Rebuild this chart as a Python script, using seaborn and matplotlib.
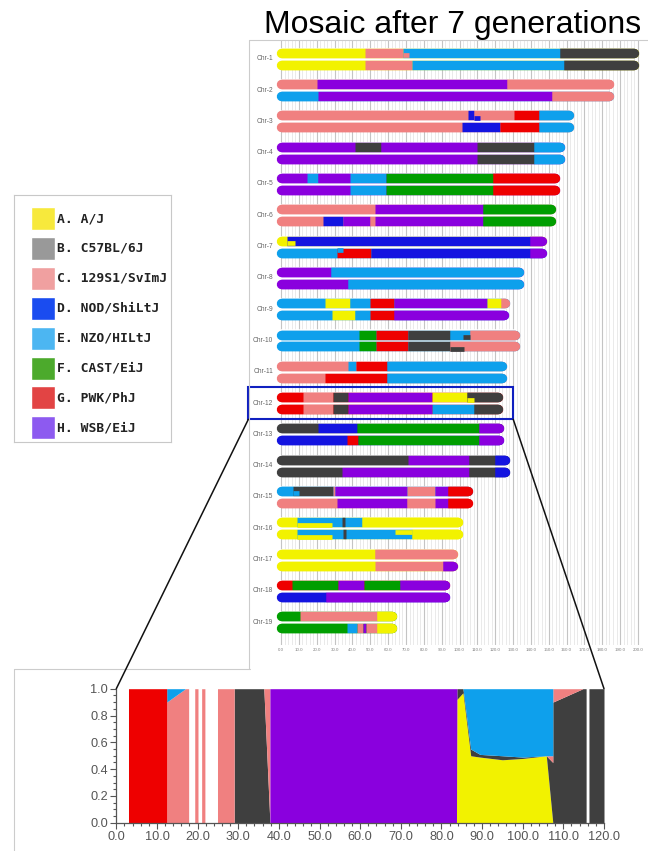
import matplotlib
matplotlib.use("Agg")
import matplotlib.pyplot as plt
import numpy as np
import seaborn as sb
from matplotlib.lines import Line2D
from matplotlib.patches import ConnectionPatch, Rectangle

# founder strains, legend text and colours
STRAINS = ["A", "B", "C", "D", "E", "F", "G", "H"]
STRAIN_LABELS = [
    "A. A/J", "B. C57BL/6J", "C. 129S1/SvImJ", "D. NOD/ShiLtJ",
    "E. NZO/HILtJ", "F. CAST/EiJ", "G. PWK/PhJ", "H. WSB/EiJ",
]
BAR_COLORS = ["#f2f200", "#3f3f3f", "#f08080", "#1414e0",
              "#0ea0ec", "#009e00", "#ee0000", "#8a00de"]
LEGEND_COLORS = ["#f7e93c", "#999999", "#f0a0a0", "#1a4cf0",
                 "#4cb6f2", "#4caa2c", "#e24444", "#8d5af0"]

CHROMOSOMES = ["Chr-%d" % i for i in range(1, 20)]
AXIS_TICKS = list(range(0, 201, 10))

# haplotype blocks as (strain, end in Mb), one list per chromosome
TOP_HAPLOTYPES = [
    [("A", 47.1), ("C", 68.6), ("E", 156.5), ("B", 197.5)],
    [("C", 20.0), ("H", 126.6), ("C", 183.5)],
    [("C", 105.0), ("D", 108.0), ("C", 130.3), ("G", 144.3), ("E", 161.4)],
    [("H", 41.5), ("B", 55.9), ("H", 109.8), ("B", 141.9), ("E", 156.2)],
    [("H", 14.4), ("E", 21.0), ("H", 38.7), ("E", 58.7), ("F", 118.5), ("G", 153.6)],
    [("C", 52.7), ("H", 113.1), ("F", 151.2)],
    [("A", 3.2), ("D", 139.6), ("H", 146.0)],
    [("H", 27.9), ("E", 133.4)],
    [("E", 24.7), ("A", 38.7), ("E", 49.9), ("G", 63.4), ("H", 115.4), ("A", 123.5), ("C", 125.5)],
    [("E", 43.9), ("F", 53.1), ("G", 71.4), ("B", 94.8), ("E", 106.0), ("C", 131.1)],
    [("C", 37.8), ("E", 42.1), ("G", 59.3), ("E", 123.7)],
    [("G", 12.5), ("C", 29.3), ("B", 37.8), ("H", 84.5), ("A", 104.0), ("B", 121.3)],
    [("B", 20.9), ("D", 42.4), ("F", 110.7), ("H", 122.1)],
    [("B", 71.4), ("H", 105.1), ("B", 120.0), ("D", 125.5)],
    [("E", 7.0), ("B", 29.0), ("C", 30.3), ("H", 70.5), ("C", 86.4), ("H", 93.8), ("G", 104.8)],
    [("A", 8.8), ("E", 45.2), ("A", 99.4)],
    [("A", 52.7), ("C", 96.4)],
    [("G", 6.0), ("F", 32.1), ("H", 46.6), ("F", 66.7), ("H", 91.8)],
    [("F", 10.7), ("C", 54.0), ("A", 62.4)],
]
BOTTOM_HAPLOTYPES = [
    [("A", 47.1), ("C", 73.3), ("E", 158.3), ("B", 197.5)],
    [("E", 20.5), ("H", 151.8), ("C", 183.5)],
    [("C", 101.3), ("D", 122.8), ("G", 144.3), ("E", 161.4)],
    [("H", 109.8), ("B", 141.9), ("E", 156.2)],
    [("H", 38.7), ("E", 58.7), ("F", 118.5), ("G", 153.6)],
    [("C", 23.7), ("D", 35.0), ("H", 49.9), ("C", 52.7), ("H", 113.1), ("F", 151.2)],
    [("E", 31.2), ("G", 50.3), ("D", 139.6), ("H", 146.0)],
    [("H", 37.8), ("E", 133.4)],
    [("E", 28.4), ("A", 41.5), ("E", 49.9), ("G", 63.4), ("H", 125.0)],
    [("E", 43.9), ("F", 53.1), ("G", 71.4), ("B", 94.8), ("C", 131.1)],
    [("C", 24.7), ("G", 59.3), ("E", 123.7)],
    [("G", 12.5), ("C", 29.3), ("B", 37.8), ("H", 84.5), ("E", 107.9), ("B", 121.3)],
    [("D", 36.8), ("G", 43.4), ("F", 110.7), ("H", 122.1)],
    [("B", 34.0), ("H", 105.1), ("B", 120.0), ("D", 125.5)],
    [("C", 31.2), ("H", 70.5), ("C", 86.4), ("H", 93.8), ("G", 104.8)],
    [("A", 8.8), ("E", 73.3), ("A", 99.4)],
    [("A", 52.7), ("C", 91.0), ("H", 96.4)],
    [("D", 25.2), ("H", 91.8)],
    [("F", 36.8), ("E", 42.4), ("C", 46.0), ("H", 47.5), ("C", 54.0), ("A", 62.4)],
]
# half-height steps at block borders: (chromosome, haplotype, strain, start, end, half)
NOTCHES = [
    (1, 0, "C", 68.6, 71.5, "lower"),
    (3, 0, "D", 108.0, 111.5, "lower"),
    (7, 0, "A", 3.2, 7.7, "lower"),
    (7, 1, "E", 31.2, 35.0, "upper"),
    (10, 0, "B", 102.0, 106.0, "lower"),
    (10, 1, "B", 94.8, 102.3, "lower"),
    (12, 0, "A", 104.0, 107.9, "lower"),
    (15, 0, "E", 7.0, 10.0, "lower"),
    (16, 0, "A", 8.8, 28.6, "lower"),
    (16, 0, "B", 34.0, 36.0, "full"),
    (16, 1, "A", 8.8, 28.6, "lower"),
    (16, 1, "A", 63.9, 73.3, "upper"),
    (16, 1, "B", 34.5, 36.5, "full"),
]

# Chr-12 founder probabilities along the chromosome (Mb)
ZOOM_POS = [3.0, 12.4, 12.4, 17.0, 17.8, 17.8, 19.3, 19.3, 20.1, 20.1,
            21.0, 21.0, 21.8, 21.8, 24.9, 24.9, 29.0, 29.0, 36.3, 37.8,
            37.8, 83.7, 83.8, 85.3, 87.2, 89.5, 95.0, 100.0, 105.8, 107.4,
            107.4, 114.8, 115.6, 115.6, 116.3, 116.3, 120.0]
ZOOM_A = [0, 0, 0, 0, 0, 0, 0, 0, 0, 0,
          0, 0, 0, 0, 0, 0, 0, 0, 0, 0,
          0, 0, .92, .97, .50, .49, .47, .48, .50, 0,
          0, 0, 0, 0, 0, 0, 0]
ZOOM_B = [0, 0, 0, 0, 0, 0, 0, 0, 0, 0,
          0, 0, 0, 0, 0, 0, 0, 1, 1, 0,
          0, 0, .08, .03, .05, .02, .03, .01, 0, .45,
          .90, 1, 1, 0, 0, 1, 1]
ZOOM_C = [0, 0, .90, 1, 1, 0, 0, 1, 1, 0,
          0, 1, 1, 0, 0, 1, 1, 0, 0, 1,
          0, 0, 0, 0, 0, 0, 0, 0, 0, .05,
          .10, 0, 0, 0, 0, 0, 0]
ZOOM_D = [0, 0, 0, 0, 0, 0, 0, 0, 0, 0,
          0, 0, 0, 0, 0, 0, 0, 0, 0, 0,
          0, 0, 0, 0, 0, 0, 0, 0, 0, 0,
          0, 0, 0, 0, 0, 0, 0]
ZOOM_E = [0, 0, .10, 0, 0, 0, 0, 0, 0, 0,
          0, 0, 0, 0, 0, 0, 0, 0, 0, 0,
          0, 0, 0, 0, .45, .49, .50, .51, .50, .50,
          0, 0, 0, 0, 0, 0, 0]
ZOOM_F = [0, 0, 0, 0, 0, 0, 0, 0, 0, 0,
          0, 0, 0, 0, 0, 0, 0, 0, 0, 0,
          0, 0, 0, 0, 0, 0, 0, 0, 0, 0,
          0, 0, 0, 0, 0, 0, 0]
ZOOM_G = [1, 1, 0, 0, 0, 0, 0, 0, 0, 0,
          0, 0, 0, 0, 0, 0, 0, 0, 0, 0,
          0, 0, 0, 0, 0, 0, 0, 0, 0, 0,
          0, 0, 0, 0, 0, 0, 0]
ZOOM_H = [0, 0, 0, 0, 0, 0, 0, 0, 0, 0,
          0, 0, 0, 0, 0, 0, 0, 0, 0, 0,
          1, 1, 0, 0, 0, 0, 0, 0, 0, 0,
          0, 0, 0, 0, 0, 0, 0]
ZOOM_TICKS = list(range(0, 121, 10))

sb.set_theme(style="white")
plt.rcParams["font.family"] = ["Liberation Sans", "DejaVu Sans"]

W, H = 648, 851
BAR_LW = 6.8
HAP_OFFSET = 0.19
HALF_SHIFT = 0.076


def fig_box(x0, y0, x1, y1):
    return [x0 / W, 1 - y1 / H, (x1 - x0) / W, (y1 - y0) / H]


def strain_color(strain):
    return BAR_COLORS[STRAINS.index(strain)]


def draw_haplotype(ax, y, blocks):
    starts = [0.0] + [end for _, end in blocks[:-1]]
    length = blocks[-1][1]
    # rounded ends first, then the blocks on top with square borders
    ax.plot([0, length], [y, y], color=strain_color(blocks[0][0]), lw=BAR_LW,
            solid_capstyle="round", zorder=3)
    ax.plot([starts[-1], length], [y, y], color=strain_color(blocks[-1][0]), lw=BAR_LW,
            solid_capstyle="round", zorder=3)
    for (strain, end), start in zip(blocks, starts):
        ax.plot([start, end], [y, y], color=strain_color(strain), lw=BAR_LW,
                solid_capstyle="butt", zorder=4)


fig = plt.figure(figsize=(W / 100, H / 100), dpi=100)

# genome mosaic
ax = fig.add_axes(fig_box(248, 40, 648, 645))
ax.set_xlim(-18.49, 205.6)
ax.set_ylim(19.73, 0.399)
ax.set_xticks(AXIS_TICKS)
ax.set_xticklabels(["%.1f" % t for t in AXIS_TICKS], fontsize=3.2, color="#808080")
ax.set_xticks(np.arange(0, 201, 2), minor=True)
ax.grid(True, which="major", axis="x", color="#c4c4c4", lw=0.8)
ax.grid(True, which="minor", axis="x", color="#e2e2e2", lw=0.5)
ax.tick_params(axis="x", which="both", length=0, pad=2)
ax.set_yticks([])
ax.set_axisbelow(True)
for spine in ax.spines.values():
    spine.set_visible(False)

for k, (top, bottom) in enumerate(zip(TOP_HAPLOTYPES, BOTTOM_HAPLOTYPES), start=1):
    length = max(top[-1][1], bottom[-1][1])
    ax.plot([0, length], [k, k], color="white", lw=15.5, solid_capstyle="butt", zorder=2)
    draw_haplotype(ax, k - HAP_OFFSET, top)
    draw_haplotype(ax, k + HAP_OFFSET, bottom)
    ax.text(-4.5, k, CHROMOSOMES[k - 1], ha="right", va="center",
            fontsize=4.8, color="#666666")

for chrom, hap, strain, start, end, half in NOTCHES:
    y = chrom + (HAP_OFFSET if hap else -HAP_OFFSET)
    shift = {"upper": -HALF_SHIFT, "lower": HALF_SHIFT, "full": 0}[half]
    ax.plot([start, end], [y + shift, y + shift], color=strain_color(strain),
            lw=BAR_LW if half == "full" else BAR_LW / 2, solid_capstyle="butt", zorder=5)

# highlight Chr-12
ax.add_patch(Rectangle((-18.3, 11.48), 148.4, 1.04, fill=False, edgecolor="#1020c0",
                       lw=1.5, clip_on=False, zorder=6))

# zoom on Chr-12
axb = fig.add_axes(fig_box(116.3, 688.7, 604, 822.8))
values = [ZOOM_A, ZOOM_B, ZOOM_C, ZOOM_D, ZOOM_E, ZOOM_F, ZOOM_G, ZOOM_H]
kept = [(v, c) for v, c in zip(values, BAR_COLORS) if any(v)]
axb.stackplot(ZOOM_POS, *[v for v, _ in kept], colors=[c for _, c in kept],
              linewidth=0, antialiased=False)
axb.set_xlim(0, 120)
axb.set_ylim(0, 1)
axb.set_xticks(ZOOM_TICKS)
axb.set_xticklabels(["%.1f" % t for t in ZOOM_TICKS])
axb.set_xticks(np.arange(0, 121, 2), minor=True)
axb.set_yticks(np.arange(0, 1.01, 0.2))
axb.set_yticklabels(["%.1f" % t for t in np.arange(0, 1.01, 0.2)])
axb.set_yticks(np.arange(0, 1.01, 0.05), minor=True)
axb.tick_params(which="both", direction="out", color="#555555", width=0.8,
                labelsize=9.2, labelcolor="#555555", bottom=True, left=True)
axb.tick_params(which="major", length=4, pad=2)
axb.tick_params(which="minor", length=2)
sb.despine(ax=axb)
for side in ("left", "bottom"):
    axb.spines[side].set_color("#555555")
    axb.spines[side].set_linewidth(0.9)

for xa, xb in ((-18.3, 0), (130.1, 120)):
    fig.add_artist(ConnectionPatch(xyA=(xa, 12.52), coordsA=ax.transData,
                                   xyB=(xb, 1.0), coordsB=axb.transData,
                                   color="#111111", lw=1.1, zorder=7))

# legend
axl = fig.add_axes(fig_box(14, 195, 171, 442))
axl.set_xlim(0, 157)
axl.set_ylim(8.26, 0)
rows = np.arange(len(STRAINS)) + 0.786
axl.barh(rows, 24.3, left=16.7, height=0.77, color=LEGEND_COLORS)
for r, label in zip(rows, STRAIN_LABELS):
    axl.text(43, r, label, ha="left", va="center", family="DejaVu Sans Mono",
             weight="bold", fontsize=9.4, color="#222222")
axl.set_xticks([])
axl.set_yticks([])
for spine in axl.spines.values():
    spine.set_color("#c8c8c8")
    spine.set_linewidth(0.8)

# panel frames
frame = dict(color="#cccccc", lw=0.8)
fig.add_artist(Line2D([249 / W, 249 / W], [1 - 40 / H, 1 - 669 / H], **frame))
fig.add_artist(Line2D([249 / W, 1], [1 - 40 / H, 1 - 40 / H], **frame))
fig.add_artist(Line2D([14 / W, 250 / W], [1 - 669 / H, 1 - 669 / H], **frame))
fig.add_artist(Line2D([14 / W, 14 / W], [1 - 669 / H, 0], **frame))

fig.text(641 / W, 1 - 33 / H, "Mosaic after 7 generations", ha="right", va="baseline",
         fontsize=23, color="black")

fig.savefig("out.png", dpi=100)
